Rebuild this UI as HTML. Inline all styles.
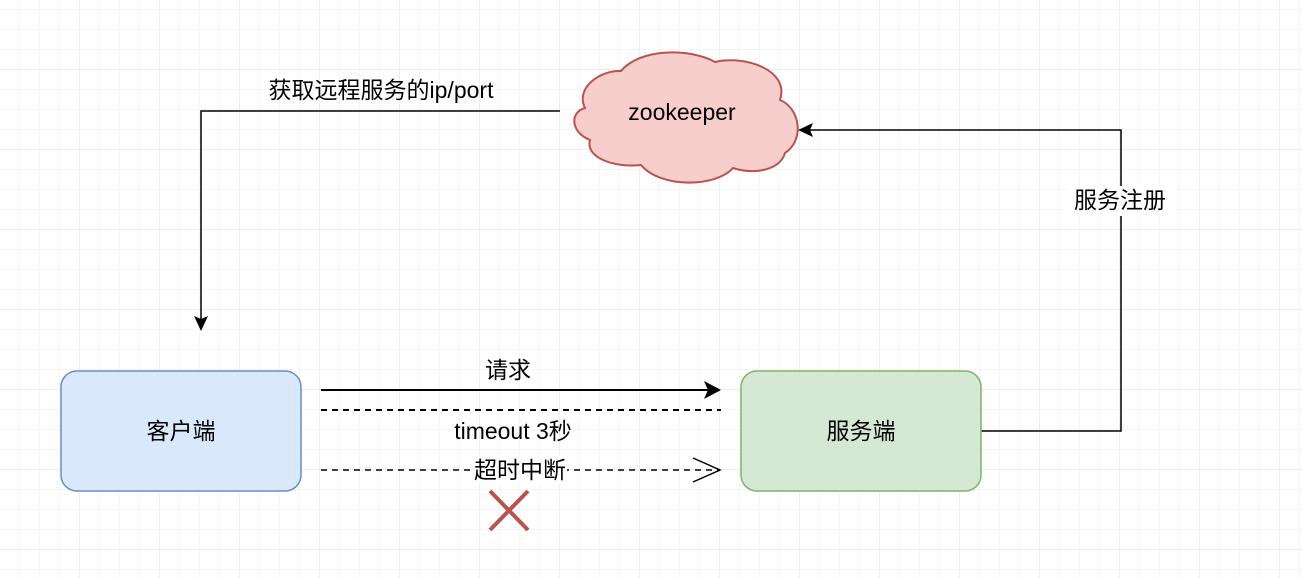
<!DOCTYPE html>
<html><head><meta charset="utf-8"><style>
html,body{margin:0;padding:0;background:#fff}
svg{display:block}
text{font-family:"Liberation Sans","Noto Sans CJK SC",sans-serif;font-size:23px;fill:#000}
</style></head><body>
<svg width="1302" height="578" viewBox="0 0 1302 578" xmlns="http://www.w3.org/2000/svg">
<defs>
<pattern id="g" width="20" height="20" patternUnits="userSpaceOnUse" x="0" y="10">
<path d="M20 0V20M0 20H20" stroke="#ebebeb" stroke-width="1" fill="none"/>
</pattern>
<pattern id="G" width="80" height="80" patternUnits="userSpaceOnUse" x="0" y="70">
<path d="M80 0V80M0 80H80" stroke="#dcdcdc" stroke-width="1" fill="none"/>
</pattern>
</defs>
<rect width="1302" height="578" fill="url(#g)"/>
<rect width="1302" height="578" fill="url(#G)"/>

<path d="M621 71 C640 48 690 48 715 62 C745 55 790 70 780 100 C800 108 805 140 785 153 C780 170 755 175 733 168 C715 188 660 188 641 165 C615 168 585 158 590 140 C570 132 570 112 585 108 C575 88 600 70 621 71 Z" fill="#f8cecc" stroke="#b85450" stroke-width="2"/>
<text x="682" y="120" text-anchor="middle">zookeeper</text>

<path d="M560 111 H201 V320" fill="none" stroke="#000" stroke-width="1.5"/>
<path d="M194 316 L201 331 L208 316 L201 319 Z" fill="#000"/>
<text x="381" y="98" text-anchor="middle">获取远程服务的ip/port</text>

<path d="M981 431 H1121 V130 H808" fill="none" stroke="#000" stroke-width="1.5"/>
<path d="M813 123 L798 130 L813 137 L810 130 Z" fill="#000"/>
<rect x="1066" y="186" width="110" height="30" fill="#fff"/>
<text x="1120" y="208" text-anchor="middle">服务注册</text>

<rect x="61" y="371" width="240" height="120" rx="16" fill="#dae8fc" stroke="#6c8ebf" stroke-width="1.5"/>
<text x="181" y="439" text-anchor="middle">客户端</text>
<rect x="741" y="371" width="240" height="120" rx="16" fill="#d5e8d4" stroke="#82b366" stroke-width="1.5"/>
<text x="861" y="439" text-anchor="middle">服务端</text>

<path d="M321 390 H710" stroke="#000" stroke-width="2"/>
<path d="M704 381 L721 390 L704 399 L708 390 Z" fill="#000"/>
<text x="508" y="378" text-anchor="middle">请求</text>
<path d="M321 410 H721" stroke="#000" stroke-width="2" stroke-dasharray="6,5"/>
<text x="513" y="439" text-anchor="middle">timeout 3秒</text>

<path d="M321 470 H720" stroke="#000" stroke-width="1.5" stroke-dasharray="6,5"/>
<path d="M693 458 L720 470 L693 482" fill="none" stroke="#000" stroke-width="1.5"/>
<rect x="473" y="456" width="94" height="28" fill="#fff"/>
<text x="520" y="478" text-anchor="middle">超时中断</text>

<path d="M490 491 L528 530 M528 491 L490 530" stroke="#b85450" stroke-width="4"/>
</svg>
</body></html>
